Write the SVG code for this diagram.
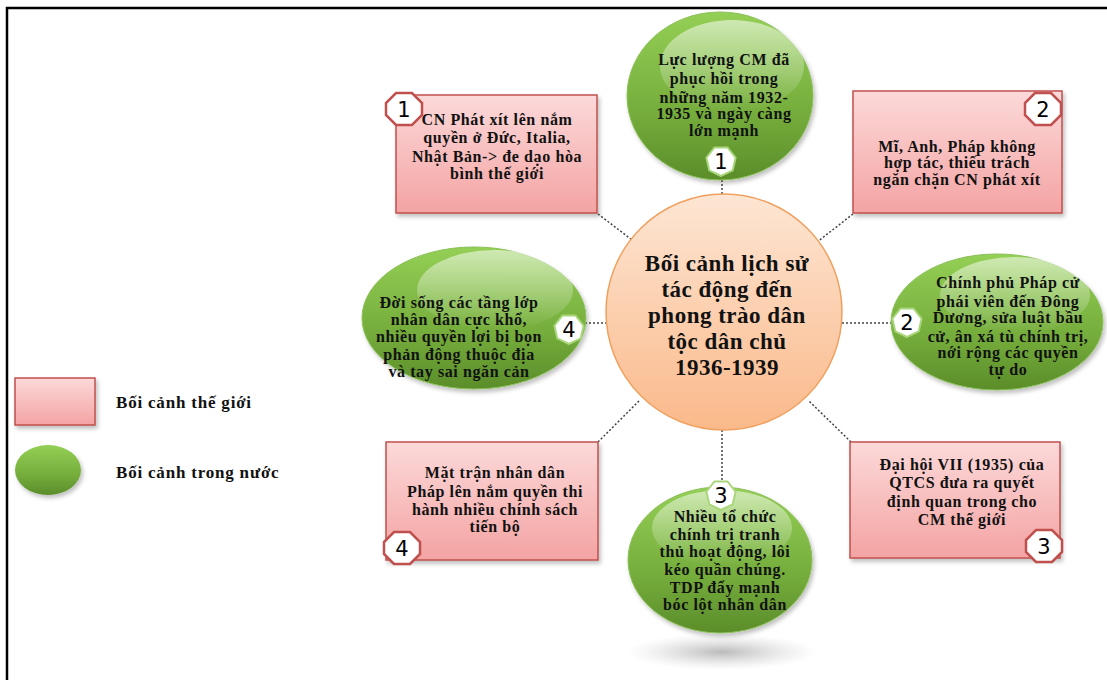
<svg xmlns="http://www.w3.org/2000/svg" width="1107" height="680" viewBox="0 0 1107 680">
<defs>
<linearGradient id="pink" x1="0" y1="0" x2="0" y2="1"><stop offset="0" stop-color="#fcd9d9"/><stop offset="1" stop-color="#f4a3a3"/></linearGradient>
<linearGradient id="green" x1="0" y1="0" x2="0" y2="1"><stop offset="0" stop-color="#94cf55"/><stop offset="0.6" stop-color="#75ad3c"/><stop offset="1" stop-color="#5b8d2a"/></linearGradient>
<linearGradient id="gloss" x1="0" y1="0" x2="0" y2="1"><stop offset="0" stop-color="#ffffff" stop-opacity="0.55"/><stop offset="1" stop-color="#ffffff" stop-opacity="0"/></linearGradient>
<linearGradient id="orange" x1="0" y1="0" x2="0" y2="1"><stop offset="0" stop-color="#fde6d4"/><stop offset="1" stop-color="#fab98a"/></linearGradient>
<radialGradient id="shadow"><stop offset="0" stop-color="#8c8c8c" stop-opacity="0.6"/><stop offset="1" stop-color="#bdbdbd" stop-opacity="0"/></radialGradient>
<filter id="ds" x="-10%" y="-10%" width="130%" height="130%"><feDropShadow dx="2" dy="3" stdDeviation="2" flood-color="#000" flood-opacity="0.25"/></filter>
<polygon id="oct" points="-8,-16 8,-16 18,-6 18,6 8,16 -8,16 -18,6 -18,-6"/>
<polygon id="hep" points="0,15 -11.7,9.4 -14.6,-3.3 -6.5,-13.5 6.5,-13.5 14.6,-3.3 11.7,9.4"/>
</defs>
<style>
.frame{fill:none;stroke:#000;stroke-width:2.5}
.rect{fill:url(#pink);stroke:#c0504d;stroke-width:1.5}
.ell{fill:url(#green);stroke:#8cc05a;stroke-width:1}
.gl{fill:url(#gloss)}
.ctr{fill:url(#orange);stroke:#f0a160;stroke-width:1.5}
.ob{fill:#fff;stroke:#c0504d;stroke-width:2.5}
.hb{fill:#fff;stroke:#a9d67a;stroke-width:2}
.bn{font-family:"DejaVu Sans","Liberation Sans",sans-serif;font-size:21px;fill:#000;text-anchor:middle}
.t{font-family:"Liberation Serif","Times New Roman",serif;font-weight:bold;font-size:16px;letter-spacing:0.6px;fill:#111;text-anchor:middle}
.tc{font-family:"Liberation Serif","Times New Roman",serif;font-weight:bold;font-size:23px;letter-spacing:0.5px;fill:#111;text-anchor:middle}
.tl{font-family:"Liberation Serif","Times New Roman",serif;font-weight:bold;font-size:17px;letter-spacing:0.8px;fill:#111}
.con{fill:none;stroke:#444;stroke-width:1.5;stroke-dasharray:2 2}
</style>
<rect width="1107" height="680" fill="#fff"/>
<path class="frame" d="M7,682 V8 H1109"/>

<g id="connectors">
<line class="con" x1="722" y1="176" x2="722" y2="194"/>
<line class="con" x1="598" y1="214" x2="640" y2="246"/>
<line class="con" x1="853" y1="214" x2="812" y2="246"/>
<line class="con" x1="585" y1="323" x2="606" y2="323"/>
<line class="con" x1="842" y1="323" x2="893" y2="323"/>
<line class="con" x1="598" y1="442" x2="640" y2="400"/>
<line class="con" x1="851" y1="442" x2="808" y2="400"/>
<line class="con" x1="722" y1="430" x2="722" y2="485"/>
</g>

<g id="center">
<circle class="ctr" cx="724" cy="312" r="118"/>
<text class="tc" x="727" y="271">Bối cảnh lịch sử</text>
<text class="tc" x="727" y="297">tác động đến</text>
<text class="tc" x="727" y="323">phong trào dân</text>
<text class="tc" x="727" y="349">tộc dân chủ</text>
<text class="tc" x="727" y="375">1936-1939</text>
</g>

<g id="n-top">
<ellipse class="ell" cx="720" cy="96" rx="93" ry="84" filter="url(#ds)"/>
<ellipse class="gl" cx="732" cy="66" rx="72" ry="46"/>
<text class="t" x="724" y="65">Lực lượng CM đã</text>
<text class="t" x="724" y="84">phục hồi trong</text>
<text class="t" x="724" y="103">những năm 1932-</text>
<text class="t" x="724" y="119">1935 và ngày càng</text>
<text class="t" x="724" y="136">lớn mạnh</text>
<use href="#hep" class="hb" x="721" y="161"/>
<text class="bn" x="721" y="169">1</text>
</g>

<g id="n-tl">
<rect class="rect" x="396" y="95" width="201" height="118" filter="url(#ds)"/>
<text class="t" x="497" y="125">CN Phát xít lên nắm</text>
<text class="t" x="497" y="143">quyền ở Đức, Italia,</text>
<text class="t" x="497" y="162">Nhật Bản-&gt; đe dạo hòa</text>
<text class="t" x="497" y="179">bình thế giới</text>
<use href="#oct" class="ob" x="404" y="109"/>
<text class="bn" x="404" y="117">1</text>
</g>

<g id="n-tr">
<rect class="rect" x="853" y="91" width="209" height="122" filter="url(#ds)"/>
<text class="t" x="957" y="152">Mĩ, Anh, Pháp không</text>
<text class="t" x="957" y="168">hợp tác, thiếu trách</text>
<text class="t" x="957" y="185">ngăn chặn CN phát xít</text>
<use href="#oct" class="ob" x="1043" y="109"/>
<text class="bn" x="1043" y="117">2</text>
</g>

<g id="n-left">
<ellipse class="ell" cx="474" cy="318" rx="112" ry="71" filter="url(#ds)"/>
<ellipse class="gl" cx="495" cy="290" rx="78" ry="40"/>
<text class="t" x="459" y="308">Đời sống các tầng lớp</text>
<text class="t" x="459" y="325">nhân dân cực khổ,</text>
<text class="t" x="459" y="342">nhiều quyền lợi bị bọn</text>
<text class="t" x="459" y="360">phản động thuộc địa</text>
<text class="t" x="459" y="377">và tay sai ngăn cản</text>
<use href="#hep" class="hb" x="569" y="329"/>
<text class="bn" x="569" y="337">4</text>
</g>

<g id="n-right">
<ellipse class="ell" cx="997" cy="322" rx="106" ry="68" filter="url(#ds)"/>
<ellipse class="gl" cx="1015" cy="295" rx="75" ry="38"/>
<text class="t" x="1008" y="288">Chính phủ Pháp cử</text>
<text class="t" x="1008" y="307">phái viên đến Đông</text>
<text class="t" x="1008" y="323">Dương, sửa luật bầu</text>
<text class="t" x="1008" y="342">cử, ân xá tù chính trị,</text>
<text class="t" x="1008" y="358">nới rộng các quyền</text>
<text class="t" x="1008" y="375">tự do</text>
<use href="#hep" class="hb" x="907" y="322"/>
<text class="bn" x="907" y="330">2</text>
</g>

<g id="n-bl">
<rect class="rect" x="386" y="442" width="212" height="118" filter="url(#ds)"/>
<text class="t" x="495" y="478">Mặt trận nhân dân</text>
<text class="t" x="495" y="497">Pháp lên nắm quyền thi</text>
<text class="t" x="495" y="515">hành nhiều chính sách</text>
<text class="t" x="495" y="532">tiến bộ</text>
<use href="#oct" class="ob" x="402" y="548"/>
<text class="bn" x="402" y="556">4</text>
</g>

<g id="n-bottom">
<ellipse cx="722" cy="652" rx="95" ry="18" fill="url(#shadow)"/>
<ellipse class="ell" cx="720" cy="560" rx="92" ry="73" filter="url(#ds)"/>
<ellipse class="gl" cx="722" cy="528" rx="70" ry="38"/>
<use href="#hep" class="hb" x="721" y="495"/>
<text class="bn" x="721" y="503">3</text>
<text class="t" x="725" y="522">Nhiều tổ chức</text>
<text class="t" x="725" y="540">chính trị tranh</text>
<text class="t" x="725" y="557">thủ hoạt động, lôi</text>
<text class="t" x="725" y="575">kéo quần chúng.</text>
<text class="t" x="725" y="593">TDP đẩy mạnh</text>
<text class="t" x="725" y="610">bóc lột nhân dân</text>
</g>

<g id="n-br">
<rect class="rect" x="850" y="442" width="210" height="116" filter="url(#ds)"/>
<text class="t" x="962" y="470">Đại hội VII (1935) của</text>
<text class="t" x="962" y="488">QTCS đưa ra quyết</text>
<text class="t" x="962" y="507">định quan trong cho</text>
<text class="t" x="962" y="525">CM thế giới</text>
<use href="#oct" class="ob" x="1044" y="546"/>
<text class="bn" x="1044" y="554">3</text>
</g>

<g id="legend">
<rect class="rect" x="15" y="378" width="80" height="47" filter="url(#ds)"/>
<text class="tl" x="116" y="408">Bối cảnh thế giới</text>
<ellipse class="ell" cx="48" cy="470" rx="33" ry="25" style="stroke:none" filter="url(#ds)"/>
<text class="tl" x="116" y="478">Bối cảnh trong nước</text>
</g>
</svg>
